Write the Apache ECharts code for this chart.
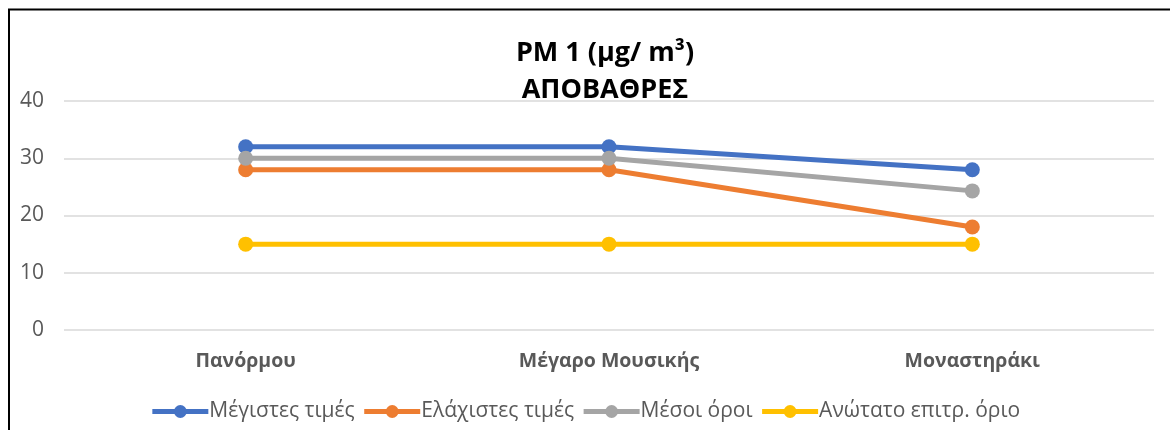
<!DOCTYPE html>
<html><head><meta charset="utf-8">
<script src="https://cdn.jsdelivr.net/npm/echarts@6/dist/echarts.min.js"></script>
<style>html,body{margin:0;padding:0;background:#fff}#c{width:1170px;height:430px}</style>
</head><body><div id="c"></div>
<script>
const categories = ['Πανόρμου', 'Μέγαρο Μουσικής', 'Μοναστηράκι'];
const seriesNames = ['Μέγιστες τιμές', 'Ελάχιστες τιμές', 'Μέσοι όροι', 'Ανώτατο επιτρ. όριο'];
const maxValues = [32, 32, 28];
const minValues = [28, 28, 18];
const meanValues = [30, 30, 24.3];
const limitValues = [15, 15, 15];
const colors = ['#4472C4', '#ED7D31', '#A5A5A5', '#FFC000'];
const allData = [maxValues, minValues, meanValues, limitValues];

const font = '"Open Sans", sans-serif';
const chart = echarts.init(document.getElementById('c'));
chart.setOption({
  animation: false,
  title: {
    text: 'PM 1 (μg/ m³)\nΑΠΟΒΑΘΡΕΣ',
    left: 600, top: 30, textAlign: 'center',
    textStyle: { fontFamily: font, fontWeight: 'bold', fontSize: 27, color: '#000', lineHeight: 37 }
  },
  legend: {
    bottom: 3, left: 'center', itemWidth: 56, itemHeight: 16, itemGap: 7,
    lineStyle: { width: 5 },
    textStyle: { fontFamily: font, fontSize: 21, color: '#595959', padding: [0, 0, 0, -4] },
    data: seriesNames
  },
  grid: { left: 64, right: 16, top: 101, bottom: 100 },
  xAxis: {
    type: 'category', data: categories, boundaryGap: true,
    axisLine: { show: false }, axisTick: { show: false },
    axisLabel: { fontFamily: font, fontWeight: 'bold', fontSize: 19.5, color: '#595959', margin: 21 }
  },
  yAxis: {
    type: 'value', min: 0, max: 40, interval: 10,
    axisLabel: { fontFamily: font, fontSize: 21, color: '#595959', margin: 20 },
    splitLine: { lineStyle: { color: '#D9D9D9', width: 1.5 } },
    axisLine: { show: false }, axisTick: { show: false }
  },
  graphic: [{
    type: 'polyline', silent: true,
    shape: { points: [[9, 432], [9, 9.5], [1172, 9.5]] },
    style: { stroke: '#000', lineWidth: 2, fill: null }
  }],
  series: seriesNames.map((n, i) => ({
    name: n, type: 'line', data: allData[i],
    symbol: 'circle', symbolSize: 15,
    lineStyle: { color: colors[i], width: 5 },
    itemStyle: { color: colors[i] }
  }))
});
</script></body></html>
